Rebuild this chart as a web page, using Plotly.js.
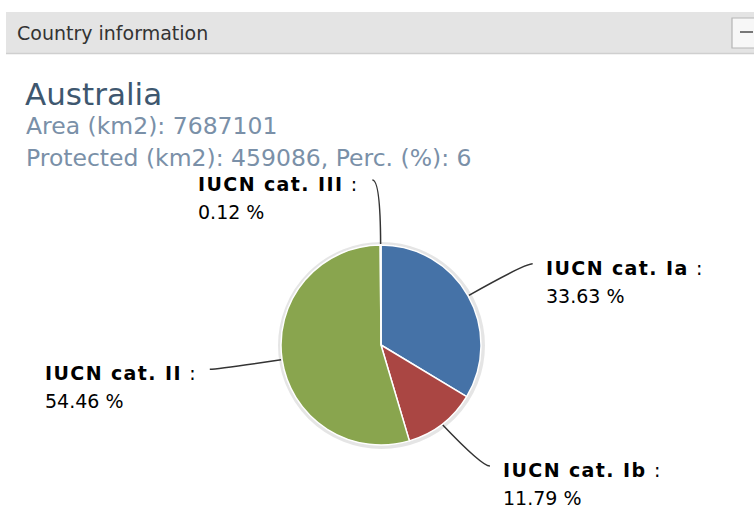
<!DOCTYPE html>
<html>
<head>
<meta charset="utf-8">
<script src="https://cdn.plot.ly/plotly-3.0.1.min.js"></script>
<style>
  html, body { margin: 0; padding: 0; background: #ffffff; }
  #chart { width: 754px; height: 508px; }
</style>
</head>
<body>
<div id="chart"></div>
<script>
// ---- Data ----
const categories = ['IUCN cat. Ia', 'IUCN cat. Ib', 'IUCN cat. II', 'IUCN cat. III'];
const percentages = [33.63, 11.79, 54.46, 0.12];
const sliceColors = ['#4572A7', '#AA4643', '#89A54E', '#80699B'];
const panelTitle = 'Country information';
const countryName = 'Australia';
const areaKm2 = 7687101;
const protectedKm2 = 459086;
const protectedPerc = 6;

// ---- Layout geometry ----
const W = 754, H = 508;
const CX = 381, CY = 345, R = 100;   // pie centre / radius (px)
const LABEL_DIST = 65;                // connector length beyond the rim
const LABEL_GAP = 11;                 // gap between connector end and label
const LABEL_MAX_Y = H - 42;           // keep labels inside the panel
const FONT = '"DejaVu Sans", Verdana, sans-serif';

const px = x => x / W;
const py = y => 1 - y / H;

const total = percentages.reduce((a, b) => a + b, 0);
const shapes = [];
const annotations = [];

// header bar
shapes.push({type: 'rect', xref: 'paper', yref: 'paper', layer: 'below',
  x0: px(6), x1: px(W + 2), y0: py(53), y1: py(12),
  fillcolor: '#e4e4e4', line: {width: 0}});
shapes.push({type: 'line', xref: 'paper', yref: 'paper', layer: 'below',
  x0: px(6), x1: px(W), y0: py(53.5), y1: py(53.5),
  line: {color: '#cfcfcf', width: 1.5}});
// collapse button
shapes.push({type: 'rect', xref: 'paper', yref: 'paper', layer: 'below',
  x0: px(732), x1: px(W + 6), y0: py(48), y1: py(18),
  fillcolor: '#f7f7f7', line: {color: '#b5b5b5', width: 1.2}});
shapes.push({type: 'line', xref: 'paper', yref: 'paper',
  x0: px(740), x1: px(753), y0: py(32), y1: py(32),
  line: {color: '#777777', width: 2}});

// soft pie shadow
shapes.push({type: 'circle', xref: 'paper', yref: 'paper', layer: 'below',
  x0: px(CX - R - 1), x1: px(CX + R + 2), y0: py(CY + R + 2), y1: py(CY - R - 1),
  fillcolor: 'rgba(0,0,0,0)', line: {color: 'rgba(0,0,0,0.10)', width: 4}});

// header text
annotations.push({xref: 'paper', yref: 'paper', x: px(15), y: py(33),
  xanchor: 'left', yanchor: 'middle', showarrow: false,
  text: panelTitle, font: {family: FONT, size: 19, color: '#333333'}});
annotations.push({xref: 'paper', yref: 'paper', x: px(24), y: py(126),
  xanchor: 'left', yanchor: 'middle', showarrow: false,
  text: 'Area (km2): ' + areaKm2,
  font: {family: FONT, size: 23.5, color: '#7a90a8'}});
annotations.push({xref: 'paper', yref: 'paper', x: px(24), y: py(158),
  xanchor: 'left', yanchor: 'middle', showarrow: false,
  text: 'Protected (km2): ' + protectedKm2 + ', Perc. (%): ' + protectedPerc,
  font: {family: FONT, size: 23.5, color: '#7a90a8'}});

// slice labels + connectors, computed from the data
let cum = 0;
percentages.forEach((p, i) => {
  const mid = (cum + p / 2) / total;
  cum += p;
  const th = mid * 2 * Math.PI;
  const dx = Math.sin(th), dy = -Math.cos(th);
  const right = dx >= 0;
  const side = right ? 1 : -1;
  const ex = CX + (R + 1) * dx, ey = CY + (R + 1) * dy;
  const ax = CX + (R + LABEL_DIST) * dx;
  const ay = Math.min(CY + (R + LABEL_DIST) * dy, LABEL_MAX_Y);
  const lx = ax + side * 8, ly = ay;
  shapes.push({type: 'path', xref: 'paper', yref: 'paper',
    path: 'M ' + px(ex) + ',' + py(ey) + ' Q ' + px(ax) + ',' + py(ay) + ' ' + px(lx) + ',' + py(ly),
    line: {color: '#333333', width: 1.5}});
  const txt = '<span style="font-size:19px;letter-spacing:1.4px"><b>' + categories[i] + '</b> :</span>' +
              '<br><span style="font-size:19px">' + p.toFixed(2) + ' %</span>';
  annotations.push({xref: 'paper', yref: 'paper',
    x: px(lx + side * LABEL_GAP), y: py(ly - 9),
    xanchor: right ? 'left' : 'right', yanchor: 'top', align: 'left',
    showarrow: false, text: txt,
    font: {family: FONT, size: 21.5, color: '#000000'}});
});

const data = [{
  type: 'pie',
  labels: categories,
  values: percentages,
  sort: false,
  direction: 'clockwise',
  rotation: 0,
  marker: {colors: sliceColors, line: {color: '#ffffff', width: 1.5}},
  textinfo: 'none',
  hoverinfo: 'label+percent',
  showlegend: false,
  domain: {x: [px(CX - R), px(CX + R)], y: [py(CY + R), py(CY - R)]}
}];

const layout = {
  width: W, height: H,
  margin: {l: 0, r: 0, t: 0, b: 0},
  paper_bgcolor: '#ffffff',
  showlegend: false,
  title: {text: countryName, x: px(25), xanchor: 'left', xref: 'paper',
          y: py(94), yanchor: 'middle', yref: 'container',
          font: {family: FONT, size: 31, color: '#3E576F'}},
  shapes: shapes,
  annotations: annotations
};

Plotly.newPlot('chart', data, layout, {displayModeBar: false, staticPlot: true});
</script>
</body>
</html>
